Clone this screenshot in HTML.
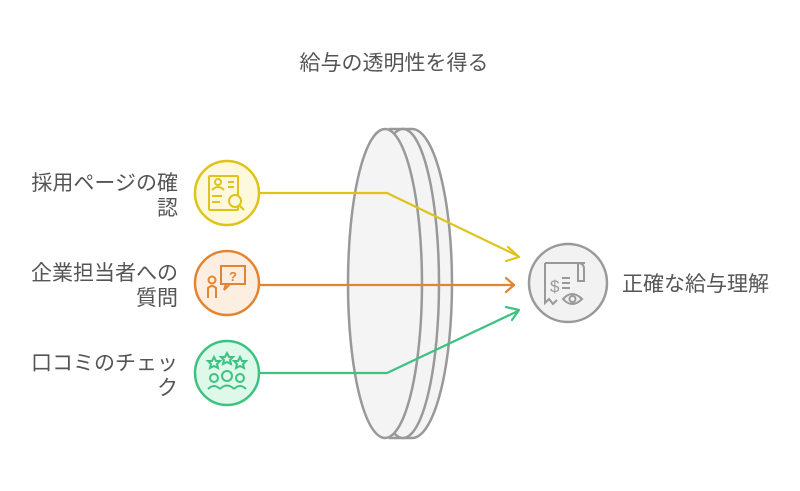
<!DOCTYPE html>
<html><head><meta charset="utf-8"><style>
body{margin:0;background:#fff;}
svg{display:block;}
text{font-family:"Liberation Sans","Noto Sans CJK JP",sans-serif;fill:#555;font-size:21px;}
</style></head><body>
<svg width="800" height="491" viewBox="0 0 800 491" xmlns="http://www.w3.org/2000/svg">
<text x="394" y="70" text-anchor="middle">給与の透明性を得る</text>
<!-- lens -->
<g stroke="#999" stroke-width="2.5" fill="#f4f4f4">
<path d="M390 129 L412 129 A40 154.5 0 0 1 412 438 L390 438 Z"/>
<ellipse cx="403" cy="283.5" rx="36" ry="154.5"/>
<ellipse cx="385" cy="283.5" rx="37" ry="154.5"/>
</g>
<!-- connectors -->
<g fill="none" stroke-width="2.2" stroke-linecap="round" stroke-linejoin="round">
<path d="M259 193 L387 193 L518 256" stroke="#e0c319"/>
<path d="M508 247 L519 257 L506 261" stroke="#e0c319"/>
<path d="M259 285 L514 285" stroke="#e4842f"/>
<path d="M506 278 L514 285 L506 292" stroke="#e4842f"/>
<path d="M259 373 L387 373 L518 311" stroke="#3dc282"/>
<path d="M506 307 L519 310 L512 320" stroke="#3dc282"/>
</g>
<!-- left circles -->
<circle cx="227" cy="193" r="32" fill="#fef9dc" stroke="#e0c319" stroke-width="2.5"/>
<circle cx="227" cy="283" r="32" fill="#fdeee2" stroke="#e4842f" stroke-width="2.5"/>
<circle cx="227" cy="373" r="32" fill="#def8ea" stroke="#3dc282" stroke-width="2.5"/>
<!-- icons -->
<g fill="none" stroke="#e0c319" stroke-width="2">
<rect x="209" y="176" width="29" height="34" rx="1"/>
<circle cx="218" cy="182" r="3"/><path d="M212 190 q6 -6 12 0 M228 182h6 M228 187h6 M212 196h10 M212 202h8"/>
<circle cx="235" cy="201" r="6" fill="#fef9dc"/><path d="M239 205l5 5"/>
</g>
<g fill="none" stroke="#e4842f" stroke-width="2">
<rect x="221" y="266" width="24" height="18"/><path d="M226 284 l-2 6 l6 -6"/>
<text x="229" y="281" font-size="13" style="fill:#e4842f;stroke:none;font-weight:bold;font-size:13px">?</text>
<circle cx="212" cy="280" r="3.5"/><path d="M208 298 v-10 q4 -4 8 0 v10"/>
</g>
<g fill="none" stroke="#3dc282" stroke-width="2">
<path d="M214 357 l2 4 4 0 -3 3 1 4 -4 -2 -4 2 1 -4 -3 -3 4 0z M227 353 l2 4 4 0 -3 3 1 4 -4 -2 -4 2 1 -4 -3 -3 4 0z M240 357 l2 4 4 0 -3 3 1 4 -4 -2 -4 2 1 -4 -3 -3 4 0z"/>
<circle cx="214" cy="378" r="4"/><circle cx="227" cy="376" r="5"/><circle cx="240" cy="378" r="4"/>
<path d="M208 389 q6 -6 12 0 M220 389 q7 -7 14 0 M234 389 q6 -6 12 0"/>
</g>
<!-- right circle -->
<circle cx="568" cy="283" r="39" fill="#f2f2f2" stroke="#999" stroke-width="2.5"/>
<g fill="none" stroke="#999" stroke-width="2">
<path d="M545 263 h40 M545 263 v40 l4 -4 4 5 4 -4 M578 263 q6 0 6 6 v12 h-6 v-18"/>
<text x="550" y="292" style="fill:#999;stroke:none;font-size:17px">$</text>
<path d="M562 278h8 M562 283h8 M562 288h8"/>
<path d="M563 299 q9 -10 19 0 q-10 10 -19 0z"/><circle cx="572.5" cy="299" r="3"/>
</g>
<!-- labels -->
<g text-anchor="end">
<text x="178" y="190">採用ページの確</text>
<text x="178" y="215">認</text>
<text x="178" y="280">企業担当者への</text>
<text x="178" y="305">質問</text>
<text x="178" y="370">口コミのチェッ</text>
<text x="178" y="395">ク</text>
</g>
<text x="622" y="291">正確な給与理解</text>
</svg>
</body></html>
